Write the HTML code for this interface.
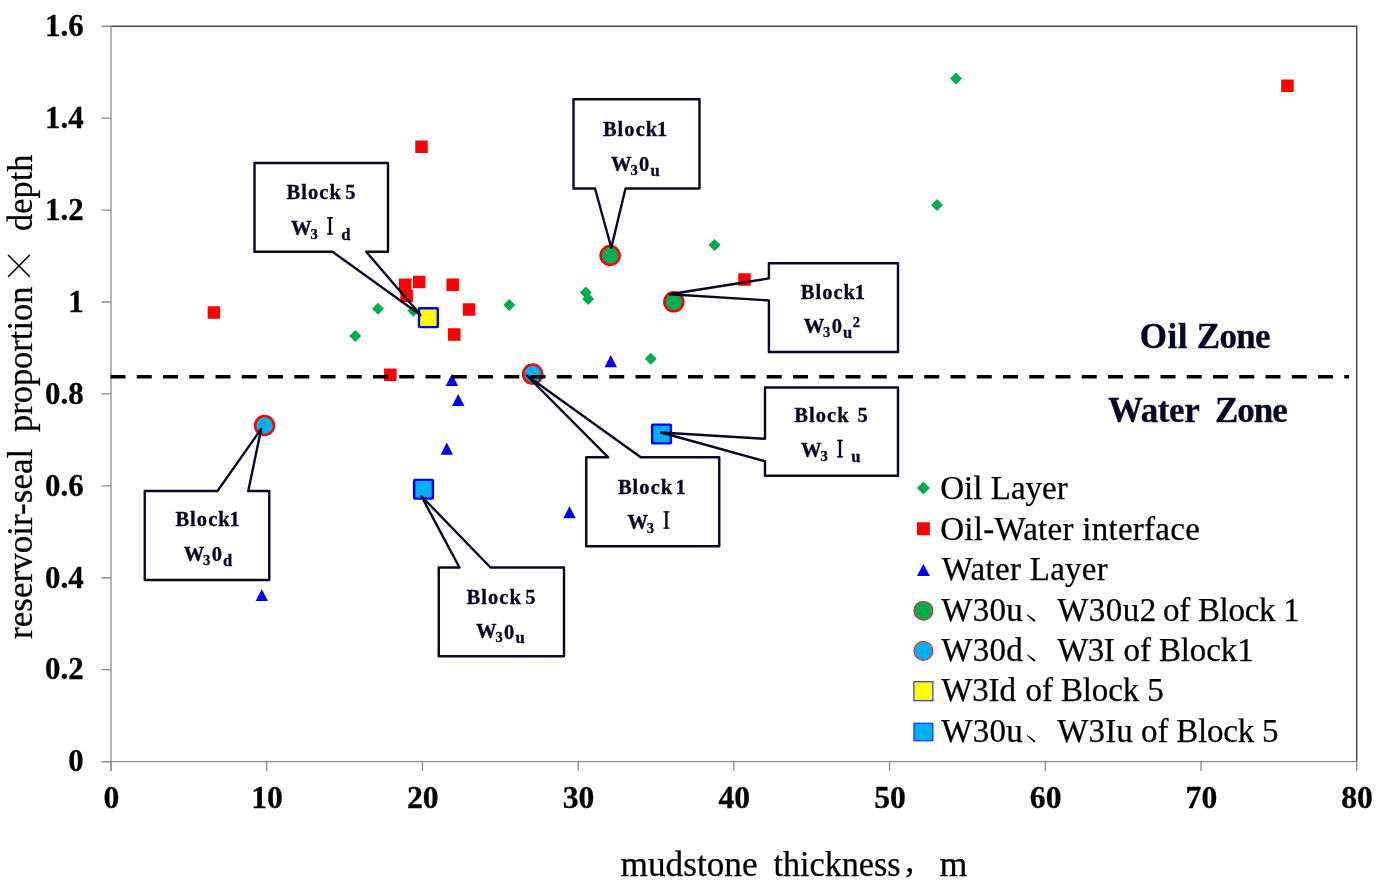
<!DOCTYPE html>
<html><head><meta charset="utf-8"><title>Chart</title>
<style>html,body{margin:0;padding:0;background:#fff;}svg{display:block;will-change:transform;}text{font-family:"Liberation Serif",serif;}</style></head><body>
<svg width="1384" height="884" viewBox="0 0 1384 884">
<rect width="1384" height="884" fill="#fff"/>
<g fill="none" stroke-width="1.3">
<path d="M111.0 26.25H1356.7V761.6" stroke="#4a4a4a" stroke-width="1.5" stroke-linejoin="round"/>
<path d="M111.0 26.25V771.1M101.5 761.6H1356.7" stroke="#8c8c8c"/>
<path d="M101.5 761.60H111.0M101.5 669.68H111.0M101.5 577.76H111.0M101.5 485.84H111.0M101.5 393.93H111.0M101.5 302.01H111.0M101.5 210.09H111.0M101.5 118.17H111.0M101.5 26.25H111.0M111.00 761.6V771.1M266.71 761.6V771.1M422.43 761.6V771.1M578.14 761.6V771.1M733.85 761.6V771.1M889.56 761.6V771.1M1045.28 761.6V771.1M1200.99 761.6V771.1M1356.70 761.6V771.1" stroke="#8c8c8c"/>
</g>
<g font-weight="bold" font-size="32.3" fill="#000" stroke="#000" stroke-width="0.3">
<text transform="translate(83.6 771.40) scale(0.955 1)" text-anchor="end">0</text>
<text transform="translate(83.6 679.48) scale(0.955 1)" text-anchor="end">0.2</text>
<text transform="translate(83.6 587.56) scale(0.955 1)" text-anchor="end">0.4</text>
<text transform="translate(83.6 495.64) scale(0.955 1)" text-anchor="end">0.6</text>
<text transform="translate(83.6 403.73) scale(0.955 1)" text-anchor="end">0.8</text>
<text transform="translate(83.6 311.81) scale(0.955 1)" text-anchor="end">1</text>
<text transform="translate(83.6 219.89) scale(0.955 1)" text-anchor="end">1.2</text>
<text transform="translate(83.6 127.97) scale(0.955 1)" text-anchor="end">1.4</text>
<text transform="translate(83.6 36.05) scale(0.955 1)" text-anchor="end">1.6</text>
<text transform="translate(111.40 807.8) scale(0.98 1)" text-anchor="middle">0</text>
<text transform="translate(267.11 807.8) scale(0.98 1)" text-anchor="middle">10</text>
<text transform="translate(422.82 807.8) scale(0.98 1)" text-anchor="middle">20</text>
<text transform="translate(578.54 807.8) scale(0.98 1)" text-anchor="middle">30</text>
<text transform="translate(734.25 807.8) scale(0.98 1)" text-anchor="middle">40</text>
<text transform="translate(889.96 807.8) scale(0.98 1)" text-anchor="middle">50</text>
<text transform="translate(1045.68 807.8) scale(0.98 1)" text-anchor="middle">60</text>
<text transform="translate(1201.39 807.8) scale(0.98 1)" text-anchor="middle">70</text>
<text transform="translate(1357.10 807.8) scale(0.98 1)" text-anchor="middle">80</text>
</g>
<g font-size="35.8" fill="#000" stroke="#000" stroke-width="0.25">
<text x="620.6" y="876.2" textLength="137" lengthAdjust="spacingAndGlyphs">mudstone</text>
<text x="773.4" y="876.2" textLength="127.2" lengthAdjust="spacingAndGlyphs">thickness</text>
<text x="939.4" y="876.2" textLength="28" lengthAdjust="spacingAndGlyphs">m</text>
<text x="905.2" y="872.2" font-size="36">,</text>
<g transform="translate(32.1 0) rotate(-90)">
<text x="-638.9" y="0" textLength="190.2" lengthAdjust="spacingAndGlyphs">reservoir-seal</text>
<text x="-432.1" y="0" textLength="145.6" lengthAdjust="spacingAndGlyphs">proportion</text>
<text x="-230.9" y="0" textLength="76.2" lengthAdjust="spacingAndGlyphs">depth</text>
<path d="M-276.8 -2.3L-255 -24M-276.8 -24L-255 -2.3" stroke="#000" stroke-width="1.6" fill="none"/>
</g>
</g>
<path d="M349.30 336.10L355.30 330.10L361.30 336.10L355.30 342.10ZM372.00 308.80L378.00 302.80L384.00 308.80L378.00 314.80ZM407.30 310.80L413.30 304.80L419.30 310.80L413.30 316.80ZM503.25 305.00L509.25 299.00L515.25 305.00L509.25 311.00ZM579.70 292.40L585.70 286.40L591.70 292.40L585.70 298.40ZM582.20 299.00L588.20 293.00L594.20 299.00L588.20 305.00ZM644.75 358.75L650.75 352.75L656.75 358.75L650.75 364.75ZM708.50 245.00L714.50 239.00L720.50 245.00L714.50 251.00ZM931.00 205.00L937.00 199.00L943.00 205.00L937.00 211.00ZM950.00 78.50L956.00 72.50L962.00 78.50L956.00 84.50Z" fill="#00ae50"/>
<path d="M207.65 306.15h12.5v12.5h-12.5ZM384.05 368.55h12.5v12.5h-12.5ZM398.85 278.45h12.5v12.5h-12.5ZM400.35 289.75h12.5v12.5h-12.5ZM412.85 275.85h12.5v12.5h-12.5ZM415.25 140.50h12.5v12.5h-12.5ZM446.45 278.55h12.5v12.5h-12.5ZM462.75 303.25h12.5v12.5h-12.5ZM448.00 328.25h12.5v12.5h-12.5ZM738.25 273.25h12.5v12.5h-12.5ZM1281.15 79.55h12.5v12.5h-12.5Z" fill="#ff0000"/>
<path d="M255.55 601.10L261.75 588.90L267.95 601.10ZM440.55 454.80L446.75 442.60L452.95 454.80ZM445.70 386.00L451.90 373.80L458.10 386.00ZM452.00 406.10L458.20 393.90L464.40 406.10ZM563.30 518.30L569.50 506.10L575.70 518.30ZM604.55 367.20L610.75 355.00L616.95 367.20Z" fill="#0000ff"/>
<circle cx="610.1" cy="255.5" r="9.5" fill="#00ae50" stroke="#ff0000" stroke-width="2.5"/>
<circle cx="673.8" cy="301.8" r="9.5" fill="#00ae50" stroke="#ff0000" stroke-width="2.5"/>
<circle cx="264.5" cy="425.5" r="9.5" fill="#00b0f0" stroke="#ff0000" stroke-width="2.5"/>
<circle cx="532.6" cy="374.1" r="9.5" fill="#00b0f0" stroke="#ff0000" stroke-width="2.5"/>
<rect x="419.0" y="308.3" width="18.8" height="18.8" rx="0.8" fill="#ffff00" stroke="#0000ff" stroke-width="2.4"/>
<rect x="414.1" y="479.85" width="18.8" height="18.8" rx="0.8" fill="#00b0f0" stroke="#0000ff" stroke-width="2.4"/>
<rect x="652.1" y="424.6" width="18.8" height="18.8" rx="0.8" fill="#00b0f0" stroke="#0000ff" stroke-width="2.4"/>
<path d="M110.5 376.7H1349" stroke="#000" stroke-width="3.5" stroke-dasharray="15 11.25" fill="none"/>
<g fill="none" stroke="#080826" stroke-width="2.4" stroke-linejoin="round">
<path d="M254.5 163H388V251.75H366.25L420.4 315L332.5 251.75H254.5Z"/>
<path d="M573.5 99.25H699.5V188.5H625.5L611.3 247.8L595 188.5H573.5Z"/>
<path d="M768.9 263.3H898V352H768.9V300.4L669.5 294.2L768.9 278.4Z"/>
<path d="M765 387.5H898V475.75H765V461.25L661.25 432.5L765 438.75Z"/>
<path d="M586.25 457.3H608.25L526.8 375.5L640.75 457.3H719.25V546.25H586.25Z"/>
<path d="M144.75 491H217.5L261.25 428.75L248.25 491H269.25V580H144.75Z"/>
<path d="M438.75 567.5H459.5L421.25 496L490.5 567.5H564V656.25H438.75Z"/>
</g>
<g font-weight="bold" fill="#080826" stroke="#080826" stroke-width="0.35">
<text x="286.5" y="199.4" font-size="20.5" textLength="54.3" lengthAdjust="spacing">Block</text><text x="345.3" y="199.4" font-size="20.5">5</text>
<text x="291.1" y="234.7" font-size="20.5">W</text><text x="310.40000000000003" y="238.6" font-size="14.5">3</text><text x="341.3" y="239.7" font-size="16.5">d</text>
<path d="M327.1 217.79999999999998H332.9M327.1 234.0H332.9" stroke="#080826" stroke-width="1.4" fill="none"/><path d="M330 217.1V234.7" stroke="#080826" stroke-width="2.4" fill="none"/>
<text x="602.9" y="135.8" font-size="20.5" textLength="54.3" lengthAdjust="spacing">Block</text><text x="657.0" y="135.8" font-size="20.5">1</text>
<text x="611.1" y="170.6" font-size="20.5">W</text><text x="630.4" y="174.5" font-size="14.5">3</text><text x="639.1" y="170.9" font-size="20.5">0</text><text x="650.4" y="175.7" font-size="16.5">u</text>
<text x="800.7" y="298.5" font-size="20.5" textLength="54.3" lengthAdjust="spacing">Block</text><text x="854.8" y="298.5" font-size="20.5">1</text>
<text x="803.8" y="332.9" font-size="20.5">W</text><text x="823.0999999999999" y="336.79999999999995" font-size="14.5">3</text><text x="831.8" y="333.2" font-size="20.5">0</text><text x="843.0999999999999" y="338.0" font-size="16.5">u</text>
<text x="852.7" y="327" font-size="14.5">2</text>
<text x="794.3" y="422.1" font-size="20.5" textLength="54.3" lengthAdjust="spacing">Block</text><text x="857.5" y="422.1" font-size="20.5">5</text>
<text x="801.1" y="457.4" font-size="20.5">W</text><text x="820.4" y="461.29999999999995" font-size="14.5">3</text><text x="851.3" y="462" font-size="16.5">u</text>
<path d="M837.1 440.49999999999994H842.9M837.1 456.7H842.9" stroke="#080826" stroke-width="1.4" fill="none"/><path d="M840 439.79999999999995V457.4" stroke="#080826" stroke-width="2.4" fill="none"/>
<text x="617.9" y="493.5" font-size="20.5" textLength="54.3" lengthAdjust="spacing">Block</text><text x="675.6" y="493.5" font-size="20.5">1</text>
<text x="627.4" y="528.8" font-size="20.5">W</text><text x="646.6999999999999" y="532.6999999999999" font-size="14.5">3</text>
<path d="M663.5 511.8999999999999H669.3M663.5 528.0999999999999H669.3" stroke="#080826" stroke-width="1.4" fill="none"/><path d="M666.4 511.19999999999993V528.8" stroke="#080826" stroke-width="2.4" fill="none"/>
<text x="175.4" y="526.1" font-size="20.5" textLength="54.3" lengthAdjust="spacing">Block</text><text x="229.5" y="526.1" font-size="20.5">1</text>
<text x="183.8" y="560.8" font-size="20.5">W</text><text x="203.10000000000002" y="564.6999999999999" font-size="14.5">3</text><text x="211.8" y="561.0999999999999" font-size="20.5">0</text><text x="223.10000000000002" y="565.9" font-size="16.5">d</text>
<text x="466.6" y="603.8" font-size="20.5" textLength="54.3" lengthAdjust="spacing">Block</text><text x="525.3" y="603.8" font-size="20.5">5</text>
<text x="476.1" y="638.3" font-size="20.5">W</text><text x="495.40000000000003" y="642.1999999999999" font-size="14.5">3</text><text x="504.1" y="638.5999999999999" font-size="20.5">0</text><text x="515.4" y="643.4" font-size="16.5">u</text>
</g>
<g font-weight="bold" fill="#080826" stroke="#080826" stroke-width="0.3">
<text x="1139.70" y="348.3" font-size="35" letter-spacing="0.531">Oil</text><text x="1196.80" y="348.3" font-size="35" letter-spacing="-0.721">Zone</text>
<text x="1108.00" y="422" font-size="35" letter-spacing="-0.394">Water</text><text x="1214.90" y="422" font-size="35" letter-spacing="-0.954">Zone</text>
</g>
<path d="M916.90 488.00L923.40 481.50L929.90 488.00L923.40 494.50Z" fill="#00ae50"/>
<path d="M916.90 522.25h13v13h-13Z" fill="#ff0000"/>
<path d="M916.90 576.00L923.40 564.00L929.90 576.00Z" fill="#0000ff"/>
<circle cx="923.4" cy="610.7" r="9.5" fill="#00ae50" stroke="#e83030" stroke-width="1.1"/>
<circle cx="923.4" cy="650.9" r="9.5" fill="#00b0f0" stroke="#e83030" stroke-width="1.1"/>
<rect x="913.9" y="681.7" width="19" height="19" fill="#ffff00" stroke="#2020ff" stroke-width="1.1"/>
<rect x="913.9" y="723.2" width="19" height="17.6" fill="#00b0f0" stroke="#2020ff" stroke-width="1.1"/>
<g font-size="33" fill="#000" stroke="#000" stroke-width="0.25">
<text x="940.20" y="498.8" font-size="33" letter-spacing="0.027">Oil Layer</text>
<text x="940.20" y="539.5" font-size="33" letter-spacing="0.269">Oil-Water interface</text>
<text x="941.80" y="580" font-size="33" letter-spacing="0.281">Water Layer</text>
<text x="941.20" y="620.9" font-size="33" letter-spacing="0.338">W30u</text><path d="M1026.6 615.0L1027.6 614.6L1035.6 620.3L1034.2 621.9Z" fill="#000" stroke="none"/><text x="1057.20" y="620.9" font-size="33" letter-spacing="0.454">W30u2</text><text x="1163.10" y="620.9" font-size="33" letter-spacing="-0.305">of Block 1</text>
<text x="941.20" y="660.7" font-size="33" letter-spacing="0.338">W30d</text><path d="M1026.6 654.8000000000001L1027.6 654.4000000000001L1035.6 660.1L1034.2 661.7Z" fill="#000" stroke="none"/><text x="1057.20" y="660.7" font-size="33" letter-spacing="-0.529">W3I</text><text x="1123.50" y="660.7" font-size="33" letter-spacing="-0.112">of Block1</text>
<text x="941.20" y="700.8" font-size="33" letter-spacing="-0.119">W3Id</text><text x="1025.60" y="700.8" font-size="33" letter-spacing="-0.138">of Block 5</text>
<text x="941.20" y="741.5" font-size="33" letter-spacing="0.338">W30u</text><path d="M1026.6 735.6L1027.6 735.2L1035.6 740.9L1034.2 742.5Z" fill="#000" stroke="none"/><text x="1057.20" y="741.5" font-size="33" letter-spacing="0.147">W3Iu</text><text x="1141.10" y="741.5" font-size="33" letter-spacing="-0.205">of Block 5</text>
</g>
</svg></body></html>
